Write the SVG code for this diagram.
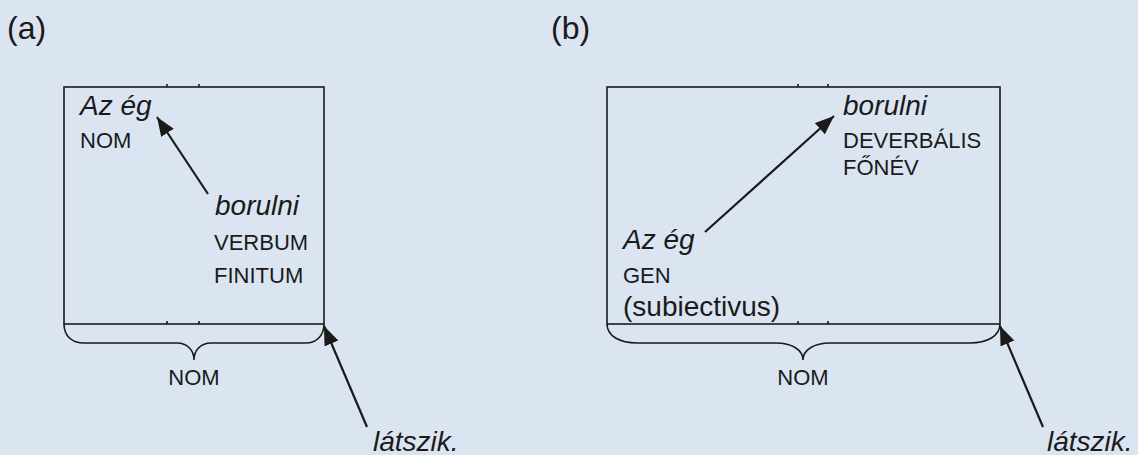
<svg xmlns="http://www.w3.org/2000/svg" width="1138" height="455" viewBox="0 0 1138 455">
<defs>
<style>
.t{font-family:"Liberation Sans",Arial,sans-serif;fill:#1a1a1a}
.it{font-style:italic;font-size:28px}
.sm{font-size:22px}
.lg{font-size:28px}
.hd{font-size:32px}
.ln{stroke:#1a1a1a;stroke-width:1.6;fill:none}
.ar{stroke:#1a1a1a;stroke-width:2.2;fill:none;marker-end:url(#ah)}
</style>
<marker id="ah" markerUnits="userSpaceOnUse" markerWidth="20" markerHeight="16" refX="19" refY="7.5" orient="auto">
<path d="M0,0 L19,7.5 L0,15 z" fill="#1a1a1a"/>
</marker>
</defs>
<rect width="1138" height="455" fill="#dbe5f1"/>

<text class="t hd" x="7" y="39">(a)</text>
<text class="t hd" x="551" y="39">(b)</text>

<g id="box-a">
<rect class="ln" x="64" y="87" width="260" height="237"/>
<path class="ln" d="M167,87 v-3 M199,87 v-3 M167,324 v-3 M199,324 v-3"/>
<path class="ln" d="M64,324 C64,336 72,343 84,343 L177,343 C187,343 194,350 194,360 C194,350 201,343 211,343 L306,343 C316,343 324,336 324,324"/>
</g>
<g id="a-azeg">
<text class="t it" x="80" y="115">Az ég</text>
<text class="t sm" x="80" y="148">NOM</text>
</g>
<g id="a-borulni">
<text class="t it" x="215" y="215">borulni</text>
<text class="t sm" x="214" y="250">VERBUM</text>
<text class="t sm" x="214" y="283">FINITUM</text>
</g>
<g id="a-nom">
<text class="t sm" x="194" y="385" text-anchor="middle">NOM</text>
</g>
<g id="a-latszik">
<text class="t it" x="373" y="451">látszik.</text>
</g>

<g id="box-b">
<rect class="ln" x="607" y="87" width="393" height="237"/>
<path class="ln" d="M798,87 v-3 M828,87 v-3 M798,324 v-3 M828,324 v-3"/>
<path class="ln" d="M607,324 C607,336 620,343 637,343 L776,343 C792,343 803,350 803,360 C803,350 814,343 830,343 L970,343 C987,343 1000,336 1000,324"/>
</g>
<g id="b-borulni">
<text class="t it" x="843" y="115">borulni</text>
<text class="t sm" x="843" y="148">DEVERBÁLIS</text>
<text class="t sm" x="843" y="175">FŐNÉV</text>
</g>
<g id="b-azeg">
<text class="t it" x="623" y="249">Az ég</text>
<text class="t sm" x="623" y="283">GEN</text>
<text class="t lg" x="623" y="316">(subiectivus)</text>
</g>
<g id="b-nom">
<text class="t sm" x="803" y="385" text-anchor="middle">NOM</text>
</g>
<g id="b-latszik">
<text class="t it" x="1047" y="451">látszik.</text>
</g>

<g id="connectors">
<line class="ar" x1="208" y1="194" x2="157" y2="117"/>
<line class="ar" x1="367" y1="427" x2="324" y2="326"/>
<line class="ar" x1="705" y1="232" x2="834" y2="116"/>
<line class="ar" x1="1043" y1="427" x2="1000" y2="326"/>
</g>
</svg>
